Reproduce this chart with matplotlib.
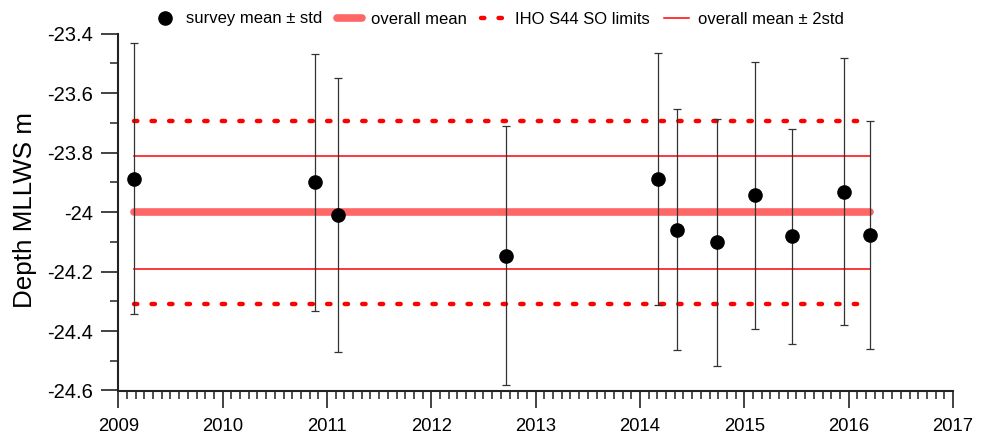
import matplotlib
matplotlib.use("Agg")
import matplotlib.pyplot as plt
from matplotlib.ticker import MultipleLocator, FuncFormatter
from matplotlib.lines import Line2D

plt.rcParams['font.family'] = ['Liberation Sans', 'DejaVu Sans']

# Survey data (decimal years)
survey_dates = [2009.15, 2010.89, 2011.11, 2012.72, 2014.17, 2014.35,
                2014.74, 2015.10, 2015.46, 2015.96, 2016.20]
survey_means = [-23.888, -23.900, -24.010, -24.146, -23.889, -24.059,
                -24.102, -23.944, -24.081, -23.932, -24.076]
survey_stds = [0.456, 0.432, 0.460, 0.434, 0.424, 0.405,
               0.416, 0.449, 0.362, 0.449, 0.383]

overall_mean = -24.001
two_std = 0.191
iho_half = 0.307

x_ticks = [2009, 2010, 2011, 2012, 2013, 2014, 2015, 2016, 2017]
y_ticks = [-23.4, -23.6, -23.8, -24.0, -24.2, -24.4, -24.6]

fig = plt.figure(figsize=(9.87, 4.36), dpi=100)
W, H = 987, 436
x0, x1 = 118.3, 953.0
y_top, y_bot = 33.7, 390.5
ax = fig.add_axes([x0 / W, 1 - y_bot / H, (x1 - x0) / W, (y_bot - y_top) / H])

xs = [survey_dates[0], survey_dates[-1]]

# IHO limits (dotted)
for sgn in (1, -1):
    ax.plot(xs, [overall_mean + sgn * iho_half] * 2, color='#ff0000', lw=3.2,
            dashes=(0.75, 3.2), dash_capstyle='round', zorder=2)
# overall mean +- 2std
for sgn in (1, -1):
    ax.plot(xs, [overall_mean + sgn * two_std] * 2, color='#ff0000', lw=1.1, zorder=2)
# overall mean
ax.plot(xs, [overall_mean] * 2, color='#ff6666', lw=5.5, solid_capstyle='round', zorder=2)

ax.errorbar(survey_dates, survey_means, yerr=survey_stds, fmt='o', color='black',
            ms=9.5, ecolor='#333333', elinewidth=0.9, capsize=3.2, capthick=0.9, zorder=3)

ax.set_xlim(2009, 2017)
ax.set_ylim(-24.6, -23.4)
ax.set_xticks(x_ticks)
ax.xaxis.set_minor_locator(MultipleLocator(1 / 12))
ax.set_yticks(y_ticks)
ax.yaxis.set_minor_locator(MultipleLocator(0.1))
ax.yaxis.set_major_formatter(FuncFormatter(lambda v, p: '%g' % round(v, 3)))

for s in ('top', 'right'):
    ax.spines[s].set_visible(False)
for s in ('left', 'bottom'):
    ax.spines[s].set_linewidth(1.5)
    ax.spines[s].set_color('#222222')

ax.tick_params(which='major', direction='out', length=12, width=1.2, color='#222222')
ax.tick_params(which='minor', direction='out', length=5.5, width=1.1, color='#222222')
ax.tick_params(axis='x', which='major', labelsize=13.3, pad=7.5)
ax.tick_params(axis='y', which='major', labelsize=14.5, pad=6)

fig.text(25 / W, 1 - 210 / H, 'Depth MLLWS m', rotation=90, fontsize=18.7,
         ha='center', va='center')

handles = [
    Line2D([], [], ls='none', marker='o', color='black', ms=9.5),
    Line2D([], [], color='#ff6666', lw=5.5, solid_capstyle='round'),
    Line2D([], [], color='#ff0000', lw=3.2, dashes=(0.75, 3.2), dash_capstyle='round'),
    Line2D([], [], color='#ff0000', lw=1.1),
]
labels = ['survey mean ± std', 'overall mean', 'IHO S44 SO limits', 'overall mean ± 2std']
fig.legend(handles, labels, loc='center', bbox_to_anchor=(498 / W, 1 - 19 / H), ncol=4,
           frameon=False, fontsize=12, handlelength=1.5, handletextpad=0.55,
           columnspacing=0.85, borderaxespad=0, borderpad=0)

fig.savefig('out.png', dpi=100)
